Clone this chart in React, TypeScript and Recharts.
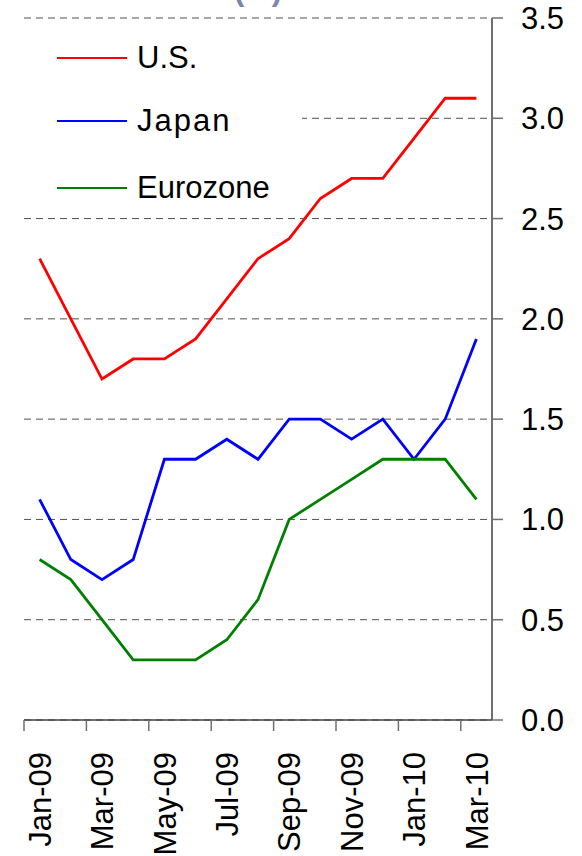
import React from 'react';
import { LineChart, Line, XAxis, YAxis, CartesianGrid } from 'recharts';

const months = [
  'Jan-09', 'Feb-09', 'Mar-09', 'Apr-09', 'May-09', 'Jun-09', 'Jul-09', 'Aug-09',
  'Sep-09', 'Oct-09', 'Nov-09', 'Dec-09', 'Jan-10', 'Feb-10', 'Mar-10',
];
const us = [2.3, 2.0, 1.7, 1.8, 1.8, 1.9, 2.1, 2.3, 2.4, 2.6, 2.7, 2.7, 2.9, 3.1, 3.1];
const japan = [1.1, 0.8, 0.7, 0.8, 1.3, 1.3, 1.4, 1.3, 1.5, 1.5, 1.4, 1.5, 1.3, 1.5, 1.9];
const eurozone = [0.8, 0.7, 0.5, 0.3, 0.3, 0.3, 0.4, 0.6, 1.0, 1.1, 1.2, 1.3, 1.3, 1.3, 1.1];

const labelMonths = ['Jan-09', 'Mar-09', 'May-09', 'Jul-09', 'Sep-09', 'Nov-09', 'Jan-10', 'Mar-10'];
const yTicks = [0, 0.5, 1.0, 1.5, 2.0, 2.5, 3.0, 3.5];

const series = [
  { key: 'us', name: 'U.S.', color: '#ff0000' },
  { key: 'japan', name: 'Japan', color: '#0000ff' },
  { key: 'eurozone', name: 'Eurozone', color: '#008000' },
];

const data = months.map((m, i) => ({
  i,
  month: m,
  us: us[i],
  japan: japan[i],
  eurozone: eurozone[i],
}));

// label at each labelled month, tick mark on the category boundary before it
const labelIdx = labelMonths.map((m) => months.indexOf(m));
const xTicks = labelIdx.flatMap((i) => [i - 0.5, i]);

const FONT = '"Liberation Sans", Arial, sans-serif';

function MonthTick(props: any) {
  const { x, y, payload } = props;
  const v = payload.value as number;
  if (!Number.isInteger(v)) {
    const axisY = y - 32;
    return <line x1={x} x2={x} y1={axisY} y2={axisY + 11} stroke="#707070" strokeWidth={1.5} />;
  }
  return (
    <text
      x={x}
      y={y}
      dy="0.36em"
      transform={`rotate(-90 ${x} ${y})`}
      textAnchor="end"
      fontSize={31}
      fontFamily={FONT}
      fill="#000"
    >
      {months[v]}
    </text>
  );
}

export default function App() {
  return (
    <div style={{ position: 'absolute', left: 0, top: 0, width: 582, height: 856 }}>
      <LineChart
        width={582}
        height={856}
        data={data}
        margin={{ top: 18, right: 0, left: 24, bottom: 0 }}
      >
        <CartesianGrid vertical={false} stroke="#505050" strokeDasharray="7 5" />
        <XAxis
          dataKey="i"
          type="number"
          domain={[-0.5, 14.5]}
          ticks={xTicks}
          interval={0}
          height={136}
          tickSize={0}
          tickMargin={32}
          tickLine={false}
          axisLine={{ stroke: '#404040', strokeWidth: 1.5 }}
          tick={<MonthTick />}
        />
        <YAxis
          orientation="right"
          type="number"
          domain={[0, 3.5]}
          ticks={yTicks}
          interval={0}
          width={90}
          tickSize={11}
          tickMargin={18}
          tickFormatter={(v: number) => v.toFixed(1)}
          axisLine={{ stroke: '#404040', strokeWidth: 1.5 }}
          tickLine={{ stroke: '#707070', strokeWidth: 1.5 }}
          tick={{ fontSize: 31, fontFamily: FONT, fill: '#000' }}
        />
        {series.map((s) => (
          <Line
            key={s.key}
            dataKey={s.key}
            name={s.name}
            stroke={s.color}
            strokeWidth={2.8}
            dot={false}
            activeDot={false}
            isAnimationActive={false}
          />
        ))}
      </LineChart>

      <svg style={{ position: 'absolute', left: 0, top: 0 }} width={582} height={20}>
        <text x={258} y={0} textAnchor="middle" fontSize={31} fontWeight="bold" fontFamily={FONT} fill="#7a87a8">
          (%)
        </text>
      </svg>

      <div
        style={{
          position: 'absolute',
          left: 24,
          top: 28,
          width: 278,
          height: 182,
          background: '#fff',
          fontFamily: FONT,
          fontSize: 31,
        }}
      >
        {series.map((s, k) => (
          <div
            key={s.key}
            style={{
              position: 'absolute',
              left: 33,
              top: [30, 93, 160][k] - 18,
              height: 36,
              display: 'flex',
              alignItems: 'center',
              whiteSpace: 'nowrap',
            }}
          >
            <span style={{ display: 'inline-block', width: 70, height: 2.6, background: s.color, marginRight: 10 }} />
            <span style={{ letterSpacing: s.key === 'japan' ? 2 : 0 }}>{s.name}</span>
          </div>
        ))}
      </div>
    </div>
  );
}
